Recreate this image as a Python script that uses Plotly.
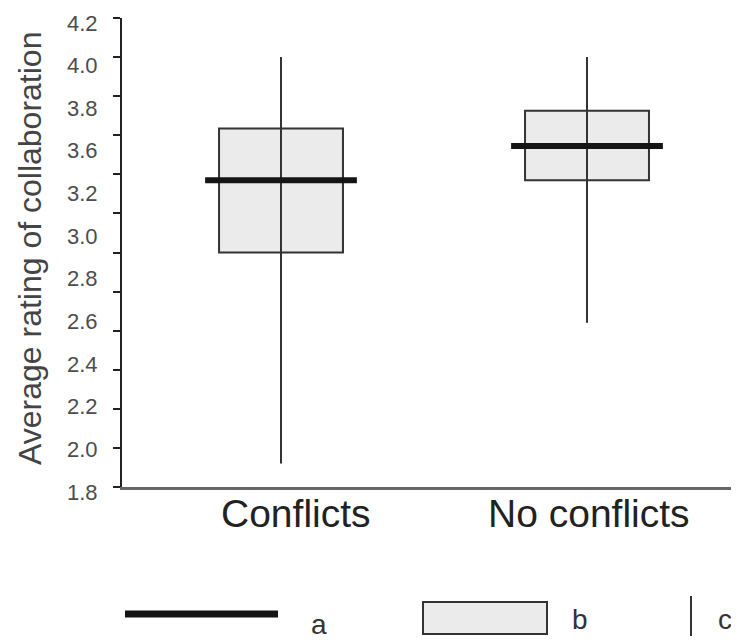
import numpy as np
import plotly.graph_objects as go

# ---- data ----
categories = ["Conflicts", "No conflicts"]
q1 = [3.00, 3.37]
median = [3.37, 3.545]
q3 = [3.635, 3.725]
whisker_low = [1.92, 2.64]
whisker_high = [4.00, 4.00]

# tick labels as printed in the original (3.4 is absent in the source figure)
ytick_labels = ["4.2", "4.0", "3.8", "3.6", "3.2", "3.0", "2.8", "2.6", "2.4", "2.2", "2.0", "1.8"]
ytick_vals = [4.2, 4.0, 3.8, 3.6, 3.4, 3.2, 3.0, 2.8, 2.6, 2.4, 2.2, 2.0, 1.8]

legend_labels = ["a", "b", "c"]

FONT = "Liberation Sans, Arial, sans-serif"
W, H = 739, 640
OFF = 8  # default page body margin
AX_L, AX_R, AX_T, AX_B = 122, 737, 18, 487  # plot area in page pixels
FW, FH = W - OFF, H - OFF
ML, MT = AX_L - OFF, AX_T - OFF
MR = FW - (AX_R - OFF)
MB = FH - (AX_B - OFF)
PW, PH = AX_R - AX_L, AX_B - AX_T

def px(x):
    return (x - AX_L) / PW

def py(y):
    return (AX_B - y) / PH

xpos = list(range(len(categories)))
box_w = 0.405
med_half = 0.248

fig = go.Figure()

# boxes (interquartile range)
fig.add_trace(go.Bar(
    x=xpos, y=[b - a for a, b in zip(q1, q3)], base=q1, width=box_w,
    marker=dict(color="#ebebeb", line=dict(color="#333333", width=2)),
    hoverinfo="skip", showlegend=False))

# whiskers
wx, wy = [], []
for i in xpos:
    wx += [i, i, None]
    wy += [whisker_low[i], whisker_high[i], None]
fig.add_trace(go.Scatter(x=wx, y=wy, mode="lines",
                         line=dict(color="#333333", width=2), showlegend=False, hoverinfo="skip"))

# medians
mx, my = [], []
for i in xpos:
    mx += [i - med_half, i + med_half, None]
    my += [median[i], median[i], None]
fig.add_trace(go.Scatter(x=mx, y=my, mode="lines",
                         line=dict(color="#151515", width=6), showlegend=False, hoverinfo="skip"))

annotations = []
# y tick labels (evenly spread, as in the source)
for lab, yv in zip(ytick_labels, np.linspace(4.2, 1.8, len(ytick_labels))):
    annotations.append(dict(x=0, xref="paper", y=yv, yref="y", text=lab, showarrow=False,
                            xanchor="right", yanchor="middle", xshift=-22, yshift=-5,
                            font=dict(family=FONT, size=22, color="#4d4d4d")))
# category labels
for i, (cat, sh) in enumerate(zip(categories, [15, 2])):
    annotations.append(dict(x=i, xref="x", y=py(513), yref="paper", text=cat, showarrow=False,
                            xanchor="center", yanchor="middle", xshift=sh,
                            font=dict(family=FONT, size=39, color="#222222")))
# y title
annotations.append(dict(x=px(30), xref="paper", y=py(249), yref="paper",
                        text="Average rating of collaboration", textangle=-90, showarrow=False,
                        xanchor="center", yanchor="middle",
                        font=dict(family=FONT, size=32, color="#444444")))
# legend labels
for lab, (lx, ly) in zip(legend_labels, [(319, 624), (580, 619), (725, 619)]):
    annotations.append(dict(x=px(lx), xref="paper", y=py(ly), yref="paper", text=lab,
                            showarrow=False, xanchor="center", yanchor="middle",
                            font=dict(family=FONT, size=28, color="#333333")))

shapes = [
    dict(type="line", xref="paper", yref="paper", x0=px(125), x1=px(278), y0=py(614), y1=py(614),
         line=dict(color="#151515", width=7)),
    dict(type="rect", xref="paper", yref="paper", x0=px(423), x1=px(547), y0=py(602), y1=py(634),
         fillcolor="#ebebeb", line=dict(color="#333333", width=2)),
    dict(type="line", xref="paper", yref="paper", x0=px(691), x1=px(691), y0=py(596), y1=py(636),
         line=dict(color="#333333", width=2)),
]

# x range so the two categories sit at page x 281 and 587
x_scale = 587 - 281
x_range = [0 - (281 - AX_L) / x_scale, 1 + (AX_R - 587) / x_scale]

fig.update_layout(
    width=FW, height=FH,
    margin=dict(l=ML, r=MR, t=MT, b=MB),
    paper_bgcolor="white", plot_bgcolor="white",
    showlegend=False,
    annotations=annotations, shapes=shapes,
    xaxis=dict(range=x_range, showgrid=False, zeroline=False, showticklabels=False,
               ticks="", showline=True, linecolor="#666666", linewidth=3, fixedrange=True),
    yaxis=dict(range=[1.8, 4.2], tickvals=ytick_vals, showticklabels=False, ticks="outside",
               ticklen=7, tickwidth=2, tickcolor="#222222", showgrid=False, zeroline=False,
               showline=True, linecolor="#222222", linewidth=2, fixedrange=True),
)

fig.write_html("out.html")
